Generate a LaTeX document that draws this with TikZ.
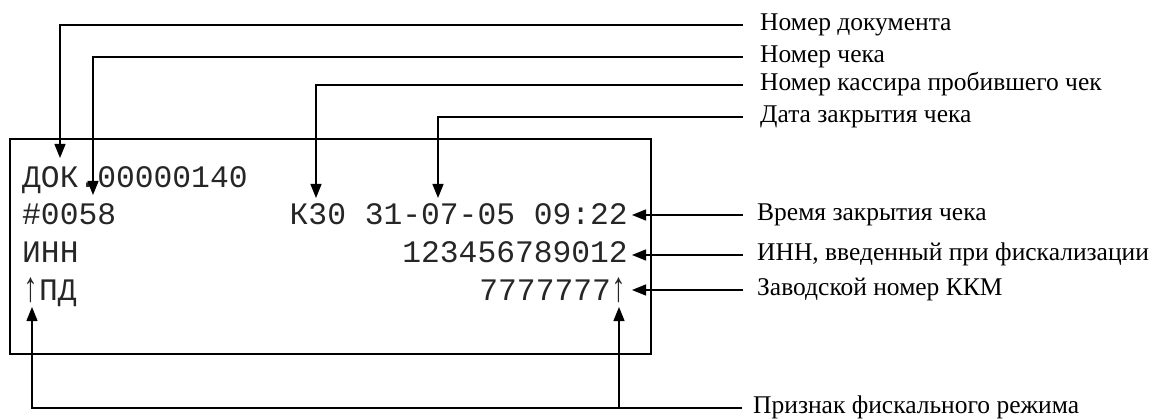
\documentclass[tikz,border=0pt]{standalone}
\usepackage{fontspec}
\setmainfont{Liberation Serif}
\newfontfamily\receiptfont{Liberation Mono}
\usetikzlibrary{arrows.meta}
\newcommand{\tallup}{\raisebox{-1pt}{\scalebox{0.9}[1.35]{↑}}}
\begin{document}
\begin{tikzpicture}[x=1pt,y=-1pt,
  conn/.style={line width=1.3pt, black},
  arr/.style={conn, -{Triangle[length=14pt,width=11pt]}},
  lab/.style={anchor=west, inner xsep=0pt, inner ysep=0pt, text height=15pt, text depth=4pt, font=\fontsize{25.5}{30}\selectfont},
  rc/.style={inner sep=0pt, text=black!85, font=\receiptfont\fontsize{31.3}{36}\selectfont},
  box/.style={draw, line width=1.6pt}]
\useasboundingbox (0,0) rectangle (1158,419);
% receipt box
\draw[box] (10,139) rectangle (651,354);
% receipt text
\node[rc, anchor=base west] (r1) at (22,188) {ДОК.00000140};
\node[rc, anchor=base west] (r2) at (22,225) {\#0058};
\node[rc, anchor=base east] (r3) at (628,225) {К30 31-07-05 09:22};
\node[rc, anchor=base west] (r4) at (22,263) {ИНН};
\node[rc, anchor=base east] (r5) at (628,263) {123456789012};
\node[rc, anchor=base west] (r6) at (22,301) {\tallup ПД};
\node[rc, anchor=base east] (r7) at (628,301) {7777777\tallup};
% labels
\node[lab] (l1) at (760,25) {Номер документа};
\node[lab] (l2) at (760,57) {Номер чека};
\node[lab] (l3) at (760,85) {Номер кассира пробившего чек};
\node[lab] (l4) at (760,117) {Дата закрытия чека};
\node[lab] (l5) at (757,215) {Время закрытия чека};
\node[lab] (l6) at (757,255) {ИНН, введенный при фискализации};
\node[lab] (l7) at (757,290) {Заводской номер ККМ};
\node[lab] (l8) at (753,408) {Признак фискального режима};
% arrow targets
\coordinate (t1) at (60,158);
\coordinate (t2) at (93,195);
\coordinate (t3) at (316,198);
\coordinate (t4) at (438,198);
\coordinate (t5) at (632,215);
\coordinate (t6) at (632,255);
\coordinate (t7) at (632,290);
\coordinate (t8) at (32,307);
\coordinate (t9) at (619,307);
% connectors
\draw[arr] ([xshift=-17pt]l1.west) -| (t1);
\draw[arr] ([xshift=-17pt]l2.west) -| (t2);
\draw[arr] ([xshift=-17pt]l3.west) -| (t3);
\draw[arr] ([xshift=-17pt]l4.west) -| (t4);
\draw[arr] ([xshift=-14pt]l5.west) -- (t5);
\draw[arr] ([xshift=-14pt]l6.west) -- (t6);
\draw[arr] ([xshift=-14pt]l7.west) -- (t7);
\draw[arr] ([xshift=-11pt]l8.west) -| (t8);
\draw[arr] (t9 |- l8.west) -- (t9);
\end{tikzpicture}
\end{document}
